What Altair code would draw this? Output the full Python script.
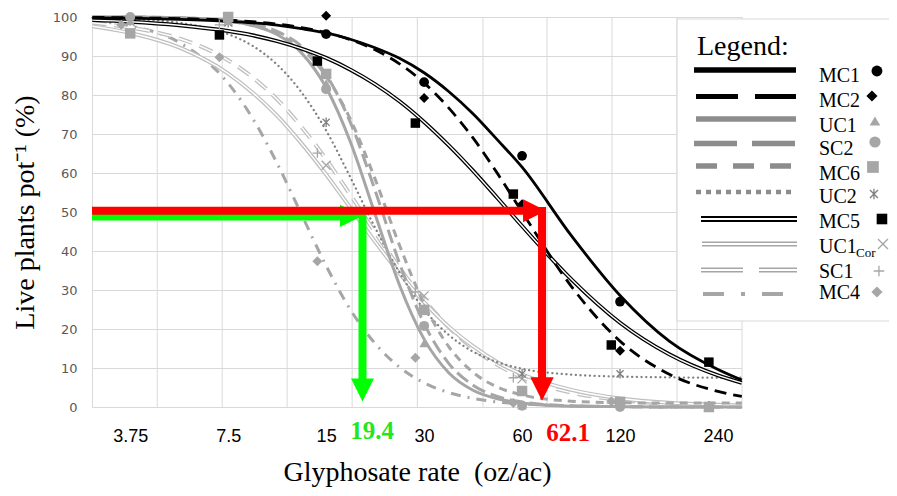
import altair as alt
import pandas as pd

# ---------------- data ----------------
series = ["MC1", "MC2", "UC1", "SC2", "MC6", "UC2", "MC5", "UC1Cor", "SC1", "MC4"]

curve_dose = [2.87, 3.75, 5.3, 7.5, 8.92, 10.6, 12.6, 15, 17.8, 21.2, 25.2,
              30, 35.7, 42.4, 50.4, 60, 84.9, 120, 170, 240, 284]

curve_MC1 = [99.8, 99.7, 99.4, 98.9, 98.5, 97.9, 97.0, 95.9, 94.3, 92.1, 89.4,
             85.7, 80.9, 75.2, 68.5, 61.5, 44.0, 28.6, 16.9, 9.6, 6.9]
curve_MC2 = [99.9, 99.8, 99.6, 99.2, 98.8, 98.2, 97.3, 96.0, 94.2, 91.6, 88.0,
             83.1, 76.7, 69.0, 59.9, 50.0, 31.0, 16.9, 8.4, 4.0, 2.7]
curve_UC1 = [100.0, 100.0, 99.8, 99.0, 97.8, 95.5, 90.8, 81.9, 68.0, 49.5, 31.3,
             17.4, 8.8, 4.3, 2.1, 1.0, 0.2, 0.1, 0.0, 0.0, 0.0]
curve_SC2 = [100.0, 100.0, 99.8, 99.2, 98.3, 96.3, 92.5, 85.2, 73.0, 55.6, 36.9,
             21.4, 11.2, 5.6, 2.7, 1.3, 0.3, 0.1, 0.0, 0.0, 0.0]
curve_MC6 = [100.0, 99.9, 99.7, 98.9, 97.8, 95.7, 91.8, 84.8, 73.8, 58.5, 41.5,
             26.4, 15.5, 8.9, 5.1, 3.1, 1.5, 1.1, 1.0, 1.0, 1.0]
curve_UC2 = [99.8, 99.5, 98.5, 95.6, 92.6, 87.8, 80.7, 70.9, 58.9, 46.0, 34.5,
             25.0, 18.5, 14.2, 11.5, 9.8, 8.3, 7.8, 7.6, 7.5, 7.5]
curve_MC5 = [99.2, 98.8, 97.9, 96.4, 95.3, 93.8, 91.9, 89.5, 86.5, 82.8, 78.4,
             73.1, 67.1, 60.6, 53.6, 46.4, 32.8, 21.6, 13.5, 8.1, 6.2]
curve_UC1Cor = [97.6, 95.9, 92.2, 85.5, 80.6, 74.7, 67.6, 59.6, 51.1, 42.4, 34.3,
                26.9, 20.6, 15.6, 11.5, 8.4, 4.4, 2.2, 1.1, 0.6, 0.4]
curve_SC1 = [98.5, 97.3, 94.5, 88.9, 84.5, 78.9, 71.8, 63.5, 54.4, 44.8, 35.7,
             27.5, 20.5, 15.0, 10.8, 7.6, 3.7, 1.8, 0.8, 0.4, 0.3]
curve_MC4 = [99.0, 97.7, 93.5, 83.0, 74.0, 62.5, 49.4, 36.2, 25.0, 16.3, 10.2,
             6.2, 3.7, 2.2, 1.3, 0.8, 0.3, 0.1, 0.0, 0.0, 0.0]

curves = {"MC1": curve_MC1, "MC2": curve_MC2, "UC1": curve_UC1, "SC2": curve_SC2,
          "MC6": curve_MC6, "UC2": curve_UC2, "MC5": curve_MC5,
          "UC1Cor": curve_UC1Cor, "SC1": curve_SC1, "MC4": curve_MC4}

pts_dose = {
    "MC1": [15, 30, 60, 120],
    "MC2": [15, 30, 60, 120],
    "MC5": [7.05, 14.1, 28.2, 56.4, 112.8, 225],
    "UC1": [3.75, 7.5, 15, 30, 60, 120, 225],
    "SC2": [3.75, 7.5, 15, 30, 60, 120, 225],
    "MC6": [3.75, 7.5, 15, 30, 60, 120, 225],
    "UC2": [3.75, 7.5, 15, 30, 60, 120, 225],
    "UC1Cor": [3.75, 7.5, 15, 30, 60, 120, 225],
    "SC1": [7.05, 14.1, 28.2, 56.4, 112.8, 225],
    "MC4": [3.52, 7.05, 14.1, 28.2, 56.4, 112.8, 225],
}
pts_val = {
    "MC1": [95.6, 83.3, 64.4, 27.0],
    "MC2": [100.3, 79.2, 52.0, 14.4],
    "MC5": [95.4, 88.7, 72.8, 54.6, 15.9, 11.5],
    "UC1": [99.0, 99.0, 83.0, 16.4, 0.5, 1.5, 0.0],
    "SC2": [100.0, 99.5, 81.5, 20.8, 0.3, 0.0, 0.0],
    "MC6": [95.8, 100.0, 85.4, 24.9, 4.1, 1.3, 0.0],
    "UC2": [99.0, 98.5, 73.0, 25.0, 8.5, 8.5, 0.3],
    "UC1Cor": [98.7, 98.7, 62.0, 28.5, 7.2, 1.0, 0.0],
    "SC1": [98.0, 65.1, 29.5, 7.5, 1.0, 0.0],
    "MC4": [98.0, 89.7, 37.4, 12.6, 1.0, 1.5, 0.0],
}

x_ticks = [3.75, 7.5, 15, 30, 60, 120, 240]
y_ticks = [0, 10, 20, 30, 40, 50, 60, 70, 80, 90, 100]
x_grid = [4.54, 7.19, 11.38, 18.03, 28.6, 45.5, 71.6, 113.4, 179.6, 284.4]
x_domain = [2.862, 284.4]
y_domain = [0, 100]

ed50_green = 19.4
ed50_red = 62.1

# annotation arrows (data units)
red_y = 50.3
red_h_end = 61.2
red_v_x = 69.1
green_y = 48.7
green_h_end = 16.8
arrow_v_end = 7.2

# ---------------- layout helpers (pixel -> data) ----------------
def dose_at(px):
    return 15 * 2 ** ((px - 326) / 98)


def val_at(py):
    return (408 - py) / 3.9


# ---------------- styles ----------------
line_color = {"MC1": "#000000", "MC2": "#000000", "UC1": "#a6a6a6", "SC2": "#a6a6a6",
              "MC6": "#a6a6a6", "UC2": "#808080", "MC5": "#000000", "UC1Cor": "#bfbfbf",
              "SC1": "#bfbfbf", "MC4": "#a6a6a6"}
line_width = {"MC1": 2.8, "MC2": 2.8, "UC1": 3, "SC2": 3, "MC6": 3, "UC2": 2.3,
              "MC5": 4, "UC1Cor": 4, "SC1": 4, "MC4": 3}
line_dash = {"MC1": None, "MC2": [12, 7], "UC1": None, "SC2": [14, 6], "MC6": [8, 6],
             "UC2": [0.1, 4.6], "MC5": None, "UC1Cor": None, "SC1": [14, 8],
             "MC4": [10, 7, 2, 7]}
inner_width = {"MC5": 1.4, "UC1Cor": 1.5, "SC1": 1.5}

leg_color = {"MC1": "#000000", "MC2": "#000000", "UC1": "#8c8c8c", "SC2": "#8c8c8c",
             "MC6": "#8c8c8c", "UC2": "#8c8c8c", "MC5": "#000000", "UC1Cor": "#a6a6a6",
             "SC1": "#a6a6a6", "MC4": "#a6a6a6"}
leg_width = {"MC1": 5.5, "MC2": 5, "UC1": 5.5, "SC2": 5.5, "MC6": 5.5, "UC2": 4.5,
             "MC5": 6, "UC1Cor": 5, "SC1": 5, "MC4": 4}
leg_dash = {"MC1": None, "MC2": [42, 17], "UC1": None, "SC2": [43, 15], "MC6": [21, 16],
            "UC2": [5, 5], "MC5": None, "UC1Cor": None, "SC1": [42, 16],
            "MC4": [21, 17, 4, 17]}
leg_inner = {"MC5": 1.8, "UC1Cor": 1.8, "SC1": 1.8}
leg_line_px = {"MC1": (694, 796), "MC2": (696, 796), "UC1": (696, 796), "SC2": (694, 795),
               "MC6": (696, 792), "UC2": (696, 796), "MC5": (701, 797),
               "UC1Cor": (702, 797), "SC1": (701, 797), "MC4": (703, 783)}
leg_line_y = [71, 97.5, 120, 144.5, 167, 193, 220, 245, 271, 295]
leg_text_y = [77, 102, 127, 150, 175, 198, 223, 248, 273, 294]
leg_mk_x = [877, 872, 875, 875, 873, 874, 882, 883, 879, 877]
leg_mk_y = [72, 97, 122, 143, 168, 195, 220, 245, 272, 293]
leg_text_label = ["MC1", "MC2", "UC1", "SC2", "MC6", "UC2", "MC5", "UC1", "SC1", "MC4"]

STAR = "M-0.75,-0.75L0.75,0.75M-0.75,0.75L0.75,-0.75M0,-1L0,1"
XSHAPE = "M-1,-1L1,1M-1,1L1,-1"
PLUS = "M-1,0L1,0M0,-1L0,1"
TRI_RIGHT = "M-1,-1L1,0L-1,1Z"
TRI_DOWN = "M-1,-1L1,-1L0,1Z"

mk_shape = {"MC1": "circle", "MC2": "diamond", "UC1": "triangle-up", "SC2": "circle",
            "MC6": "square", "UC2": STAR, "MC5": "square", "UC1Cor": XSHAPE,
            "SC1": PLUS, "MC4": "diamond"}
mk_color = {"MC1": "#000000", "MC2": "#000000", "UC1": "#a6a6a6", "SC2": "#a6a6a6",
            "MC6": "#a6a6a6", "UC2": "#7f7f7f", "MC5": "#000000", "UC1Cor": "#a6a6a6",
            "SC1": "#a6a6a6", "MC4": "#a6a6a6"}
mk_filled = {s: s not in ("UC2", "UC1Cor", "SC1") for s in series}
mk_size = {"MC1": 95, "MC2": 100, "UC1": 90, "SC2": 100, "MC6": 110, "UC2": 90,
           "MC5": 90, "UC1Cor": 80, "SC1": 90, "MC4": 100}

# ---------------- scales / axes ----------------
xscale = alt.Scale(type="log", domain=x_domain, nice=False)
yscale = alt.Scale(domain=y_domain, nice=False, zero=False)
xaxis = alt.Axis(values=x_ticks, format="~g", grid=False, ticks=False, domain=True,
                 domainColor="#d9d9d9", labelFont="Liberation Sans", labelFontSize=18,
                 labelColor="black", labelPadding=20, labelFlush=False, labelOverlap=False,
                 title="Glyphosate rate\u00a0\u00a0(oz/ac)", titleFont="Liberation Serif",
                 titleFontSize=28, titleFontWeight="normal", titleColor="black",
                 titlePadding=13)
yaxis = alt.Axis(values=y_ticks, grid=True, gridColor="#d9d9d9", gridWidth=1, ticks=False,
                 domain=True, domainColor="#d9d9d9", labelFont="DejaVu Sans",
                 labelFontSize=13, labelColor="#595959", labelPadding=15,
                 title="Live plants pot\u207b\u00b9 (%)", titleFont="Liberation Serif",
                 titleFontSize=28, titleFontWeight="normal", titleColor="black",
                 titlePadding=13)


def X(f):
    return alt.X(f, type="quantitative", scale=xscale, axis=xaxis)


def Y(f):
    return alt.Y(f, type="quantitative", scale=yscale, axis=yaxis)


layers = []

# vertical grid lines
layers.append(alt.Chart(pd.DataFrame({"g": x_grid})).mark_rule(
    color="#d9d9d9", strokeWidth=1).encode(x=X("g")))

# legend box
box = pd.DataFrame({"x1": [dose_at(677)], "x2": [dose_at(915)],
                    "y1": [val_at(20)], "y2": [val_at(322)]})
layers.append(alt.Chart(box).mark_rect(fill="white", stroke="#d9d9d9", strokeWidth=1.2)
              .encode(x=X("x1"), x2="x2", y=Y("y1"), y2="y2"))

# curves
draw_order = ["MC4", "SC1", "UC1Cor", "UC2", "MC6", "SC2", "UC1", "MC5", "MC2", "MC1"]
for s in draw_order:
    df = pd.DataFrame({"dose": curve_dose, "val": curves[s]})
    kw = dict(color=line_color[s], strokeWidth=line_width[s], interpolate="monotone",
              strokeCap="round" if s == "UC2" else "butt")
    if line_dash[s]:
        kw["strokeDash"] = line_dash[s]
    layers.append(alt.Chart(df).mark_line(**kw).encode(x=X("dose"), y=Y("val")))
    if s in inner_width:
        kw2 = dict(kw)
        kw2["color"] = "white"
        kw2["strokeWidth"] = inner_width[s]
        layers.append(alt.Chart(df).mark_line(**kw2).encode(x=X("dose"), y=Y("val")))

# markers
for s in draw_order:
    df = pd.DataFrame({"dose": pts_dose[s], "val": pts_val[s]})
    kw = dict(shape=mk_shape[s], size=mk_size[s], color=mk_color[s], opacity=1,
              filled=mk_filled[s])
    if not mk_filled[s]:
        kw["strokeWidth"] = 1.3
    layers.append(alt.Chart(df).mark_point(**kw).encode(x=X("dose"), y=Y("val")))

# arrows: green first, red on top
g_h = pd.DataFrame({"x1": [x_domain[0]], "x2": [green_h_end], "y": [green_y]})
layers.append(alt.Chart(g_h).mark_rule(color="#00ff00", strokeWidth=7, strokeCap="butt")
              .encode(x=X("x1"), x2="x2", y=Y("y")))
g_v = pd.DataFrame({"x": [ed50_green], "y1": [green_y + 0.9], "y2": [arrow_v_end]})
layers.append(alt.Chart(g_v).mark_rule(color="#00ff00", strokeWidth=8, strokeCap="butt")
              .encode(x=X("x"), y=Y("y1"), y2="y2"))
g_hr = pd.DataFrame({"x": [dose_at(351)], "y": [green_y + 0.3]})
layers.append(alt.Chart(g_hr).mark_point(shape=TRI_RIGHT, filled=True, size=500,
                                         color="#00ff00", opacity=1)
              .encode(x=X("x"), y=Y("y")))
g_hd = pd.DataFrame({"x": [ed50_green], "y": [val_at(391)]})
layers.append(alt.Chart(g_hd).mark_point(shape=TRI_DOWN, filled=True, size=530,
                                         color="#00ff00", opacity=1)
              .encode(x=X("x"), y=Y("y")))

r_h = pd.DataFrame({"x1": [x_domain[0]], "x2": [red_h_end], "y": [red_y]})
layers.append(alt.Chart(r_h).mark_rule(color="#ff0000", strokeWidth=8, strokeCap="butt")
              .encode(x=X("x1"), x2="x2", y=Y("y")))
r_v = pd.DataFrame({"x": [red_v_x], "y1": [red_y + 1.0], "y2": [arrow_v_end]})
layers.append(alt.Chart(r_v).mark_rule(color="#ff0000", strokeWidth=8, strokeCap="butt")
              .encode(x=X("x"), y=Y("y1"), y2="y2"))
r_hr = pd.DataFrame({"x": [dose_at(534.5)], "y": [red_y]})
layers.append(alt.Chart(r_hr).mark_point(shape=TRI_RIGHT, filled=True, size=530,
                                         color="#ff0000", opacity=1)
              .encode(x=X("x"), y=Y("y")))
r_hd = pd.DataFrame({"x": [red_v_x], "y": [val_at(390)]})
layers.append(alt.Chart(r_hd).mark_point(shape=TRI_DOWN, filled=True, size=550,
                                         color="#ff0000", opacity=1)
              .encode(x=X("x"), y=Y("y")))

# ED50 labels
lab = pd.DataFrame({"x": [dose_at(372), dose_at(568)], "y": [val_at(432), val_at(434)],
                    "t": [str(ed50_green), str(ed50_red)], "c": ["g", "r"]})
layers.append(alt.Chart(lab).mark_text(font="Liberation Serif", fontSize=25,
                                       fontWeight="bold", baseline="middle", align="center")
              .encode(x=X("x"), y=Y("y"), text="t:N",
                      color=alt.Color("c:N", scale=alt.Scale(domain=["g", "r"],
                                                             range=["#22e622", "#ff0000"]),
                                      legend=None)))

# legend title
lt = pd.DataFrame({"x": [dose_at(697)], "y": [val_at(48)], "t": ["Legend:"]})
layers.append(alt.Chart(lt).mark_text(font="Liberation Serif", fontSize=28, align="left",
                                      baseline="middle", color="black")
              .encode(x=X("x"), y=Y("y"), text="t:N"))

# legend line samples
for i, s in enumerate(series):
    x1, x2 = leg_line_px[s]
    df = pd.DataFrame({"x1": [dose_at(x1)], "x2": [dose_at(x2)], "y": [val_at(leg_line_y[i])]})
    kw = dict(color=leg_color[s], strokeWidth=leg_width[s], strokeCap="butt")
    if leg_dash[s]:
        kw["strokeDash"] = leg_dash[s]
    layers.append(alt.Chart(df).mark_rule(**kw).encode(x=X("x1"), x2="x2", y=Y("y")))
    if s in leg_inner:
        kw2 = dict(kw)
        kw2["color"] = "white"
        kw2["strokeWidth"] = leg_inner[s]
        layers.append(alt.Chart(df).mark_rule(**kw2).encode(x=X("x1"), x2="x2", y=Y("y")))

# legend labels
ltxt = pd.DataFrame({"x": [dose_at(819)] * len(series),
                     "y": [val_at(v) for v in leg_text_y], "t": leg_text_label})
layers.append(alt.Chart(ltxt).mark_text(font="Liberation Serif", fontSize=20, align="left",
                                        baseline="middle", color="black")
              .encode(x=X("x"), y=Y("y"), text="t:N"))
sub = pd.DataFrame({"x": [dose_at(856)], "y": [val_at(254)], "t": ["Cor"]})
layers.append(alt.Chart(sub).mark_text(font="Liberation Serif", fontSize=13, align="left",
                                       baseline="middle", color="black")
              .encode(x=X("x"), y=Y("y"), text="t:N"))

# legend markers
for i, s in enumerate(series):
    df = pd.DataFrame({"x": [dose_at(leg_mk_x[i])], "y": [val_at(leg_mk_y[i])]})
    kw = dict(shape=mk_shape[s], size=mk_size[s] * 1.25, color=mk_color[s], opacity=1,
              filled=mk_filled[s])
    if not mk_filled[s]:
        kw["strokeWidth"] = 1.3
    layers.append(alt.Chart(df).mark_point(**kw).encode(x=X("x"), y=Y("y")))

# total size 881 x 480 so the page (with its 8px margins) fits the 897 x 496 window
chart = alt.layer(*layers).properties(
    width=650, height=390,
    padding={"left": 84, "top": 9, "right": 147, "bottom": 81},
    autosize=alt.AutoSizeParams(type="none"),
).configure_view(stroke=None)

chart.save("out.html", embed_options={"renderer": "svg", "actions": False})
